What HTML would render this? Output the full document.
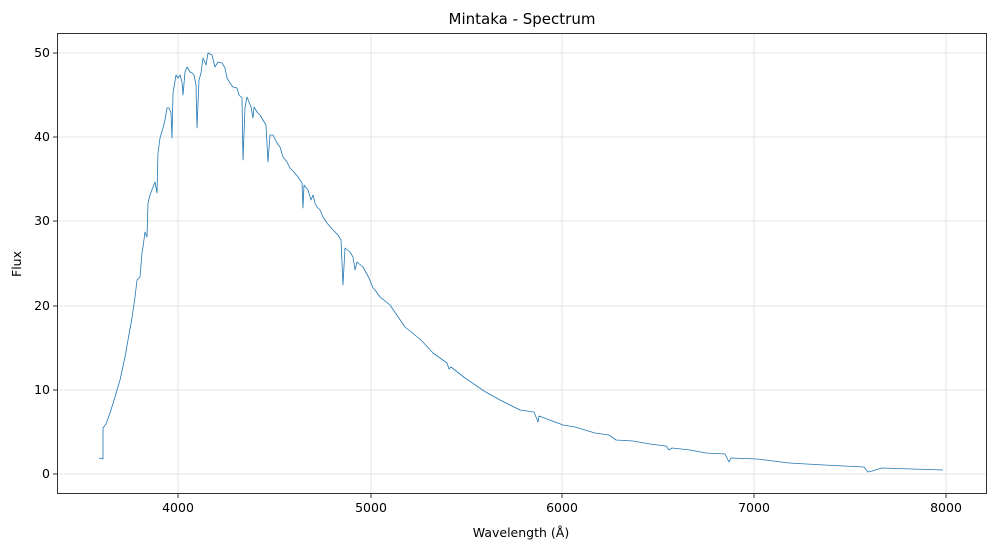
<!DOCTYPE html>
<html><head><meta charset="utf-8"><style>body{margin:0;background:#fff}svg{display:block}text{font-family:"DejaVu Sans","Liberation Sans",sans-serif;fill:#000}</style></head>
<body>
<svg width="996" height="549" viewBox="0 0 996 549" xmlns="http://www.w3.org/2000/svg">
<rect width="996" height="549" fill="#fff"/>
<g stroke="#dddddd" stroke-width="0.8">
<line x1="178" y1="33" x2="178" y2="494"/><line x1="371" y1="33" x2="371" y2="494"/><line x1="562" y1="33" x2="562" y2="494"/><line x1="754" y1="33" x2="754" y2="494"/><line x1="946" y1="33" x2="946" y2="494"/>
<line x1="57" y1="474" x2="987" y2="474"/><line x1="57" y1="390" x2="987" y2="390"/><line x1="57" y1="306" x2="987" y2="306"/><line x1="57" y1="221" x2="987" y2="221"/><line x1="57" y1="137" x2="987" y2="137"/><line x1="57" y1="53" x2="987" y2="53"/>
</g>
<polyline fill="none" stroke="#1f77b4" stroke-width="0.8" stroke-linejoin="round" points="99,458 103,459 103,428 106,424 110,413 115,397 120,380 125,357 128,340 132,318 135,297 137,280 140,277 142,253 143,247 145,232 147,237 148,203 150,195 153,187 155,182 157,193 158,153 160,138 163,128 165,120 167,108 169,108 171,113 172,138 173,93 176,75 178,78 180,75 182,82 183,95 185,72 187,67 190,72 192,73 194,75 196,85 197,128 199,80 201,73 203,58 206,65 208,53 212,55 215,67 218,62 222,63 225,68 227,78 230,83 233,87 237,88 239,95 242,98 243,160 245,107 247,97 249,102 251,107 253,118 254,107 257,112 260,115 263,120 266,125 268,162 270,135 273,135 277,143 280,147 283,157 287,162 290,168 294,172 298,177 302,183 303,208 304,185 308,190 311,200 313,195 315,203 317,207 320,210 323,217 327,223 333,230 338,235 341,240 343,285 345,248 350,252 353,257 355,270 357,262 363,267 369,278 373,288 375,290 380,297 390,305 405,327 421,340 433,353 447,363 449,369 451,367 465,378 484,391 500,400 520,410 534,412 538,422 539,416 563,425 575,427 595,433 609,435 616,440 633,441 650,444 666,446 669,450 672,448 690,450 706,453 725,454 729,462 731,458 757,459 789,463 824,465 864,467 868,472 872,471 882,468 943,470"/>
<rect x="57.5" y="33.5" width="929" height="460" fill="none" stroke="#000" stroke-width="0.8"/>
<g stroke="#000" stroke-width="0.8">
<line x1="178" y1="494" x2="178" y2="498"/><line x1="371" y1="494" x2="371" y2="498"/><line x1="562" y1="494" x2="562" y2="498"/><line x1="754" y1="494" x2="754" y2="498"/><line x1="946" y1="494" x2="946" y2="498"/>
<line x1="53" y1="474" x2="57" y2="474"/><line x1="53" y1="390" x2="57" y2="390"/><line x1="53" y1="306" x2="57" y2="306"/><line x1="53" y1="221" x2="57" y2="221"/><line x1="53" y1="137" x2="57" y2="137"/><line x1="53" y1="53" x2="57" y2="53"/>
</g>
<g font-size="12.5" text-anchor="middle">
<text x="178" y="512">4000</text><text x="371" y="512">5000</text><text x="562" y="512">6000</text><text x="754" y="512">7000</text><text x="946" y="512">8000</text>
<text x="521" y="537">Wavelength (Å)</text>
</g>
<g font-size="12.5" text-anchor="end">
<text x="50" y="478">0</text><text x="50" y="394">10</text><text x="50" y="310">20</text><text x="50" y="225">30</text><text x="50" y="141">40</text><text x="50" y="57">50</text>
</g>
<text x="21" y="264" font-size="12.5" text-anchor="middle" transform="rotate(-90 21 264)">Flux</text>
<text x="522" y="24" font-size="15" text-anchor="middle">Mintaka - Spectrum</text>
</svg>
</body></html>
